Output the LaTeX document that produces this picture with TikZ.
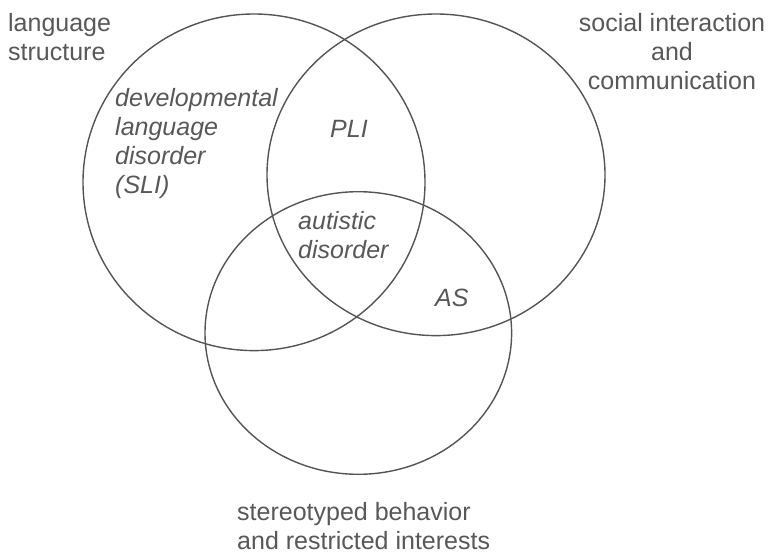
\documentclass[tikz,border=0pt]{standalone}
\usepackage{fontspec}
\setmainfont{Liberation Sans}
\definecolor{inkgray}{HTML}{585858}
\definecolor{linegray}{HTML}{555555}
\begin{document}
\begin{tikzpicture}[x=1pt,y=-1pt,
  setring/.style={draw=linegray,line width=1.4pt},
  lbl/.style={inner sep=0pt,text=inkgray,font=\fontsize{25}{29}\selectfont},
  ilbl/.style={lbl,font=\fontsize{25}{29}\selectfont\itshape}]
\useasboundingbox[fill=white] (0,0) rectangle (771,554);
% sets
\draw[setring] (254,182.3) ellipse [x radius=171pt, y radius=168.3pt];
\draw[setring] (436,174.8) ellipse [x radius=169pt, y radius=160.8pt];
\draw[setring] (358.3,333) ellipse [x radius=153.3pt, y radius=141.3pt];
% set names (anchored at the baseline of the last line)
\node[lbl,anchor=base west,align=left] (lang) at (8,60) {language\\structure};
\node[lbl,anchor=base,align=center] (social) at (672,89) {social interaction\\and\\communication};
\node[lbl,anchor=base west,align=left] (stereo) at (237,549) {stereotyped behavior\\and restricted interests};
% regions
\node[ilbl,anchor=base west,align=left] (dld) at (115,193) {developmental\\language\\disorder\\(SLI)};
\node[ilbl,anchor=base west] (pli) at (330,137) {PLI};
\node[ilbl,anchor=base west,align=left] (aut) at (298,258) {autistic\\disorder};
\node[ilbl,anchor=base west] (as) at (435,306) {AS};
\end{tikzpicture}
\end{document}
